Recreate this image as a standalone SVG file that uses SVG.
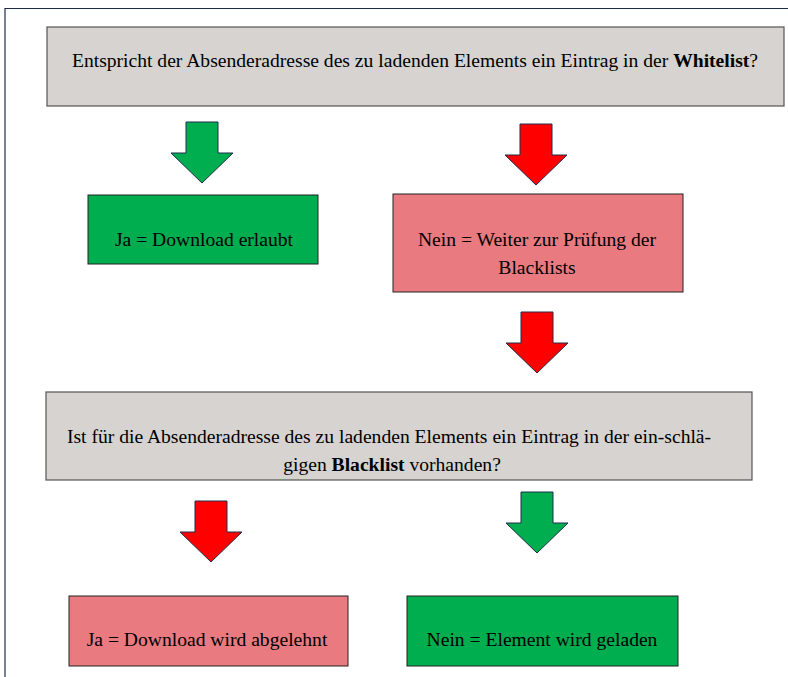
<svg xmlns="http://www.w3.org/2000/svg" width="788" height="677" viewBox="0 0 788 677">
<defs>
<style>
text{font-family:'Liberation Serif','Times New Roman',serif;font-size:19.6px;fill:#000;text-anchor:middle}
.b{font-weight:bold}
.q{fill:#d6d3d0;stroke:#555;stroke-width:1.2}
.g{fill:#00ad4f;stroke:#222;stroke-width:1}
.r{fill:#e87a80;stroke:#222;stroke-width:1}
.ag{fill:#00ad4f;stroke:#1f2d4a;stroke-width:1}
.ar{fill:#ff0000;stroke:#1f2d4a;stroke-width:1}
</style>
<path id="arr" d="M16,0 H48 V31 H63 L32,61 L1,31 H16 Z"/>
</defs>
<rect width="788" height="677" fill="#fff"/>
<path d="M5,677 V8.5 H788" fill="none" stroke="#1f2d4a" stroke-width="1.2"/>
<g id="q1">
<rect class="q" x="47" y="27" width="737" height="79"/>
<text x="415" y="67">Entspricht der Absenderadresse des zu ladenden Elements ein Eintrag in der <tspan class="b">Whitelist</tspan>?</text>
</g>
<g id="connectors">
<use href="#arr" class="ag" x="170" y="122"/>
<use href="#arr" class="ar" x="504" y="124"/>
<use href="#arr" class="ar" x="505" y="312"/>
<use href="#arr" class="ar" x="179" y="501"/>
<use href="#arr" class="ag" x="505" y="492"/>
</g>
<g id="yes1">
<rect class="g" x="88" y="195" width="230" height="69"/>
<text x="204" y="246">Ja = Download erlaubt</text>
</g>
<g id="no1">
<rect class="r" x="393" y="194" width="290" height="98"/>
<text x="537" y="246">Nein = Weiter zur Prüfung der</text>
<text x="537" y="274">Blacklists</text>
</g>
<g id="q2">
<rect class="q" x="46" y="392" width="706" height="88"/>
<text x="389" y="443">Ist für die Absenderadresse des zu ladenden Elements ein Eintrag in der ein-schlä-</text>
<text x="392" y="471">gigen <tspan class="b">Blacklist</tspan> vorhanden?</text>
</g>
<g id="yes2">
<rect class="r" x="69" y="596" width="279" height="70"/>
<text x="207" y="646">Ja = Download wird abgelehnt</text>
</g>
<g id="no2">
<rect class="g" x="407" y="596" width="271" height="70"/>
<text x="542" y="646">Nein = Element wird geladen</text>
</g>
</svg>
